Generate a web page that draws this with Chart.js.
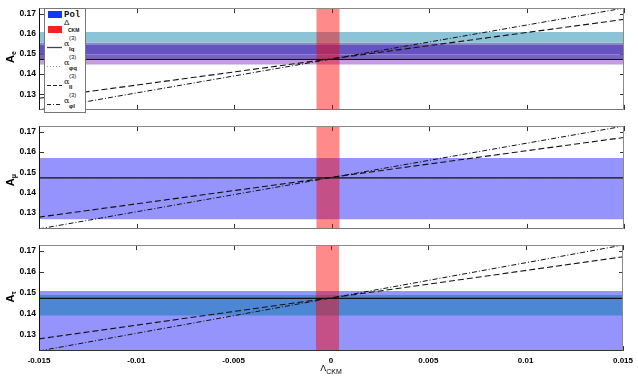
<!DOCTYPE html>
<html><head><meta charset="utf-8">
<script src="https://cdn.jsdelivr.net/npm/chart.js@4"></script>
<style>
html,body{margin:0;padding:0;background:#fff;}
body{width:638px;height:379px;position:relative;overflow:hidden;font-family:"Liberation Sans",Arial,sans-serif;}
canvas{position:absolute;left:0;}
.yt{position:absolute;font-weight:bold;font-size:11px;transform:translate(-50%,-50%) rotate(-90deg);white-space:nowrap;color:#000;line-height:1;}
.yt sub{font-size:7px;vertical-align:-2px;}
.xt{position:absolute;left:331px;top:369px;transform:translate(-50%,-50%);font-size:9px;white-space:nowrap;line-height:1;}
.xt sub{font-size:7px;vertical-align:-3px;}
#legend{position:absolute;left:44px;top:8px;width:42px;height:105px;box-sizing:border-box;border:1px solid #777;background:#fff;}
.sw{position:absolute;width:14px;height:7px;}
.lt{position:absolute;white-space:nowrap;line-height:1;color:#111;}
</style></head>
<body>
<canvas id="c1" width="638" height="118" style="top:0px"></canvas>
<canvas id="c2" width="638" height="119" style="top:118px"></canvas>
<canvas id="c3" width="638" height="142" style="top:237px"></canvas>
<div class="yt" style="left:11px;top:57px">A<sub>e</sub></div>
<div class="yt" style="left:11px;top:180px">A<sub>μ</sub></div>
<div class="yt" style="left:11px;top:297px">A<sub>τ</sub></div>
<div class="xt">Λ<sub>CKM</sub></div>
<div id="legend"></div>
<svg id="lsvg" width="638" height="379" style="position:absolute;left:0;top:0;pointer-events:none"></svg>
<script>
// ---- data ----
const xRange = [-0.015, 0.015];
const xTicks = [-0.015, -0.01, -0.005, 0, 0.005, 0.01, 0.015];
const xTickLabels = ['-0.015', '-0.01', '-0.005', '0', '0.005', '0.01', '0.015'];
const yRange = [0.1222, 0.1728];
const yTicks = [0.13, 0.14, 0.15, 0.16, 0.17];
const yTickLabels = ['0.13', '0.14', '0.15', '0.16', '0.17'];
const ckmBand = [-0.00078, 0.00042];
const line_lq = [0.1473, 0.1473];     // alpha_lq (solid)
const line_phiq = [0.1473, 0.1473];   // alpha_phiq (dotted)
const line_ll = [0.1280, 0.1672];     // alpha_ll (dashed)
const line_phil = [0.1222, 0.1728];   // alpha_phil (dash-dot)
const bandsE = [[0.1448, 0.1476], [0.1476, 0.1497], [0.1497, 0.1544], [0.1544, 0.1556], [0.1556, 0.1609]];
const bandsMu = [[0.1270, 0.1571]];
const bandsTau = [[0.1222, 0.1509], [0.1392, 0.1490]];
const legendNames = ['Pol', 'Δ', 'lq', 'φq', 'll', 'φl'];

// ---- styles ----
const bandColorsE = ['#c59ce0', '#7862c8', '#6453c1', '#8d84d6', '#8dc3d7'];
const bandColorsMu = ['#9494fc'];
const bandColorsTau = ['#9494fc', '#4d86d2'];

const framePlugin = {
  id: 'frame',
  beforeDatasetsDraw(chart) {
    const {ctx, chartArea: a, scales: {x, y}} = chart;
    ctx.save();
    ctx.strokeStyle = '#333';
    ctx.lineWidth = 1;
    ctx.beginPath();
    xTicks.forEach(v => {
      const p = Math.round(x.getPixelForValue(v)) + 0.5;
      ctx.moveTo(p, a.top); ctx.lineTo(p, a.top + 5);
      ctx.moveTo(p, a.bottom); ctx.lineTo(p, a.bottom - 5);
    });
    yTicks.forEach(v => {
      const p = Math.round(y.getPixelForValue(v)) + 0.5;
      ctx.moveTo(a.left, p); ctx.lineTo(a.left + 5, p);
      ctx.moveTo(a.right, p); ctx.lineTo(a.right - 4, p);
    });
    ctx.stroke();
    ctx.restore();
  },
  afterDatasetsDraw(chart, args, opts) {
    const {ctx, chartArea: a} = chart;
    ctx.save();
    ctx.lineWidth = 1;
    const L = Math.round(a.left) + 0.5, R = Math.round(a.right) - 0.5;
    const T = Math.round(a.top) + 0.5, B = Math.round(a.bottom) - 0.5;
    ctx.strokeStyle = '#8a8a8a';
    ctx.beginPath(); ctx.moveTo(L, T); ctx.lineTo(R, T); ctx.lineTo(R, B); ctx.stroke();
    ctx.strokeStyle = opts.bottomColor || '#666';
    ctx.beginPath(); ctx.moveTo(L, B); ctx.lineTo(R, B); ctx.stroke();
    ctx.strokeStyle = '#111';
    ctx.beginPath(); ctx.moveTo(L, T); ctx.lineTo(L, B); ctx.stroke();
    ctx.restore();
  }
};

function lineDS(vals, color, dash, width) {
  return {data: [{x: xRange[0], y: vals[0]}, {x: xRange[1], y: vals[1]}],
    borderColor: color, borderDash: dash, borderWidth: width, pointRadius: 0, fill: false, order: 0, tension: 0};
}

function makePanel(id, bands, colors, showX, padTop, padBottom, bottomColor) {
  const datasets = [
    lineDS(line_lq, '#111', [], 1.3),
    lineDS(line_ll, '#111', [6, 3], 1.1),
    lineDS(line_phil, '#111', [5, 2, 1, 2], 1),
    lineDS(line_phiq, '#888', [1, 2], 1),
    {data: [{x: ckmBand[0], y: yRange[1]}, {x: ckmBand[1], y: yRange[1]}], fill: {value: yRange[0]},
     backgroundColor: 'rgba(255,0,0,0.46)', borderColor: 'rgba(0,0,0,0)', borderWidth: 0, pointRadius: 0, order: 1}
  ];
  bands.forEach((b, i) => datasets.push({
    data: [{x: xRange[0], y: b[1]}, {x: xRange[1], y: b[1]}], fill: {value: b[0]},
    backgroundColor: colors[i], borderColor: 'rgba(0,0,0,0)', borderWidth: 0, pointRadius: 0,
    order: 2 + bands.length - i
  }));
  const xScale = {
    type: 'linear', min: xRange[0], max: xRange[1], display: showX,
    grid: {display: false, drawTicks: false}, border: {display: false},
    afterBuildTicks: s => { s.ticks = xTicks.map(v => ({value: v})); },
    ticks: {padding: 5, autoSkip: false, maxRotation: 0, color: '#000',
      font: {family: 'Liberation Sans', size: 8, weight: 'bold'},
      callback: v => xTickLabels[xTicks.indexOf(v)]}
  };
  if (showX) xScale.afterFit = s => { s.height = 14; };
  new Chart(document.getElementById(id), {
    type: 'line',
    data: {datasets},
    options: {
      responsive: false, animation: false, devicePixelRatio: 1,
      layout: {padding: {top: padTop, bottom: padBottom, left: 0, right: 14}},
      plugins: {legend: {display: false}, tooltip: {enabled: false}, frame: {bottomColor}},
      scales: {
        x: xScale,
        y: {
          type: 'linear', min: yRange[0], max: yRange[1],
          grid: {display: false, drawTicks: false}, border: {display: false},
          afterBuildTicks: s => { s.ticks = yTicks.map(v => ({value: v})); },
          afterFit: s => { s.width = 39; },
          ticks: {padding: 3, color: '#000', font: {family: 'Liberation Sans', size: 8.5, weight: 'bold'},
            callback: v => yTickLabels[yTicks.indexOf(v)]}
        }
      }
    },
    plugins: [framePlugin]
  });
}

makePanel('c1', bandsE, bandColorsE, false, 5, 2, '#777');
makePanel('c2', bandsMu, bandColorsMu, false, 3, 2, '#777');
makePanel('c3', bandsTau, bandColorsTau, true, 4, 14, '#333');

// ---- legend ----
const body = document.body;
function add(html, style, cls) {
  const d = document.createElement('div');
  d.className = cls; d.innerHTML = html; d.setAttribute('style', style); body.appendChild(d);
}
add('', 'left:48px;top:11px;background:#0a3cf5;', 'sw');
add(legendNames[0], 'left:64px;top:11px;font-family:"Liberation Mono",monospace;font-weight:bold;font-size:9px;', 'lt');
add('', 'left:48px;top:26px;background:#ff1f1f;', 'sw');
add(legendNames[1], 'left:64px;top:19px;font-size:8px;', 'lt');
add('CKM', 'left:68px;top:28px;font-size:5px;font-weight:bold;', 'lt');
const rowY = [47, 66, 85, 104];
const dashes = ['', '1,2', '4,2', '4,2,1,2'];
const strokeCols = ['#444', '#999', '#222', '#222'];
const svg = document.getElementById('lsvg');
rowY.forEach((yy, i) => {
  const ln = document.createElementNS('http://www.w3.org/2000/svg', 'line');
  ln.setAttribute('x1', 47); ln.setAttribute('x2', 62);
  ln.setAttribute('y1', yy + 0.5); ln.setAttribute('y2', yy + 0.5);
  ln.setAttribute('stroke', strokeCols[i]); ln.setAttribute('stroke-width', i === 0 ? 1.3 : 1);
  if (dashes[i]) ln.setAttribute('stroke-dasharray', dashes[i]);
  svg.appendChild(ln);
  add('α', 'left:64px;top:' + (yy - 7) + 'px;font-size:8px;font-family:"DejaVu Serif",serif;', 'lt');
  add('(3)', 'left:69px;top:' + (yy - 12) + 'px;font-size:6px;', 'lt');
  add(legendNames[i + 2], 'left:69px;top:' + (yy - 1) + 'px;font-size:6px;font-weight:bold;', 'lt');
});
</script>
</body></html>
